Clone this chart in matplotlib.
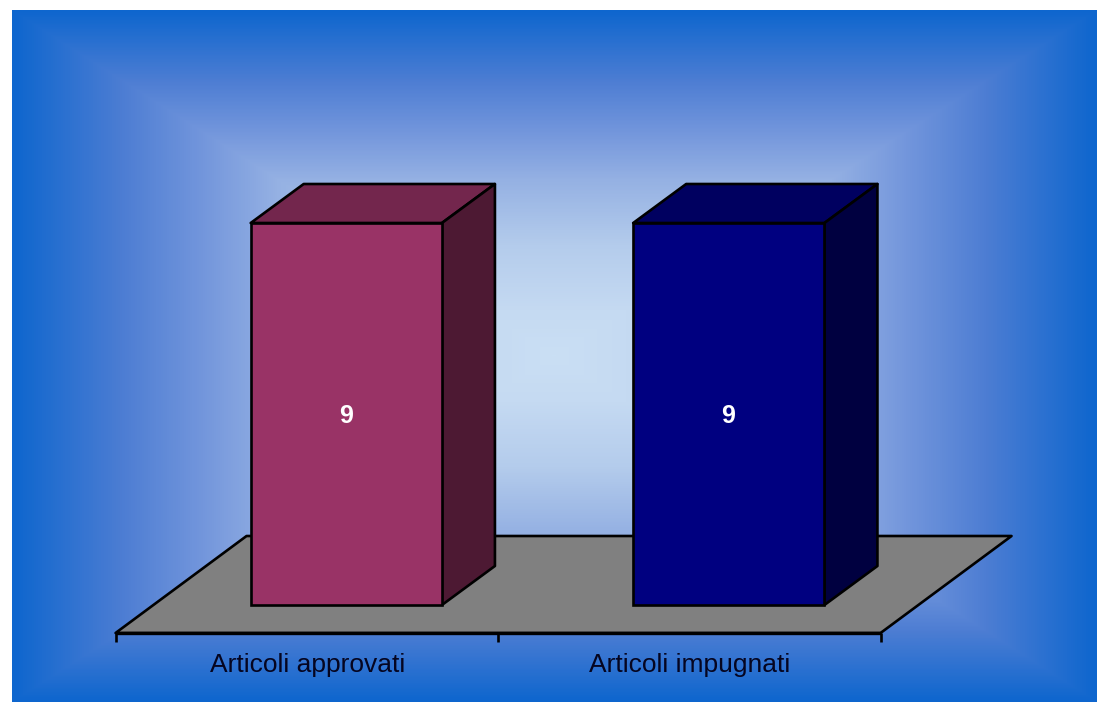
import numpy as np
import matplotlib
matplotlib.use('Agg')
from matplotlib import pyplot as plt
from matplotlib.patches import Polygon
from matplotlib.colors import LinearSegmentedColormap

# chart values
categories = ['Articoli approvati', 'Articoli impugnati']
values = [9, 9]

W, H = 1097, 702
plt.rcParams['font.family'] = ['Liberation Sans', 'DejaVu Sans']

fig = plt.figure(figsize=(W / 100, H / 100), dpi=100, facecolor='white')

# backdrop panel with a rectangular gradient
left, top = 12, 10
bg = fig.add_axes([left / W, 0, (W - left) / W, (H - top) / H])
bg.set_axis_off()
u = np.linspace(-1, 1, W - left)
v = np.linspace(-1, 1, H - top)
uu, vv = np.meshgrid(u, v)
dist = np.maximum(np.abs(uu), np.abs(vv))
grad = LinearSegmentedColormap.from_list('panel', [
    (0.0, '#cadff4'), (0.13, '#c5daf2'), (0.32, '#b4ccec'), (0.51, '#95b1e3'),
    (0.65, '#7396dc'), (0.80, '#4c7dd3'), (1.0, '#0e66ce')])
bg.imshow(dist, cmap=grad, vmin=0, vmax=1, aspect='auto', interpolation='bilinear')

# chart axes over the whole figure, category and value units
x_unit = 382.5
y_unit = 382 / 9
ax = fig.add_axes([0, 0, 1, 1])
ax.patch.set_alpha(0)
ax.set_axis_off()
ax.set_xlim(-306.8 / x_unit, (W - 306.8) / x_unit)
ax.set_ylim((H - 633) / -y_unit, 633 / y_unit)

# depth of the floor, and the offsets used by the boxes
floor_dx, floor_dy = 131 / x_unit, 97 / y_unit
box_dx, box_dy = 53 / x_unit, 39 / y_unit
shift_x, shift_y = 39.5 / x_unit, 28 / y_unit
bar_width = 0.5
lw = 1.9

floor = Polygon([(-0.5, 0), (1.5, 0), (1.5 + floor_dx, floor_dy), (-0.5 + floor_dx, floor_dy)],
                closed=True, facecolor='#808080', edgecolor='black', linewidth=lw, joinstyle='round')
ax.add_patch(floor)

# category axis line and ticks
ax.plot([-0.5, 1.5], [0, 0], color='black', linewidth=2.4, solid_capstyle='butt')
for t in [-0.5, 0.5, 1.5]:
    ax.plot([t, t], [0, -9 / y_unit], color='black', linewidth=lw, solid_capstyle='butt')

face_colors = ['#993366', '#000080']
top_colors = ['#73264d', '#000060']
side_colors = ['#4d1933', '#000040']

for i, val in enumerate(values):
    x0 = i + shift_x - bar_width / 2
    x1 = x0 + bar_width
    y0 = shift_y
    y1 = y0 + val
    ax.add_patch(Polygon([(x0, y1), (x1, y1), (x1 + box_dx, y1 + box_dy), (x0 + box_dx, y1 + box_dy)],
                         closed=True, facecolor=top_colors[i], edgecolor='black', linewidth=lw, joinstyle='round'))
    ax.add_patch(Polygon([(x1, y0), (x1 + box_dx, y0 + box_dy), (x1 + box_dx, y1 + box_dy), (x1, y1)],
                         closed=True, facecolor=side_colors[i], edgecolor='black', linewidth=lw, joinstyle='round'))
    ax.bar(i + shift_x, val, width=bar_width, bottom=y0, color=face_colors[i],
           edgecolor='black', linewidth=lw)
    ax.text(i + shift_x - 0.5 / x_unit, y0 + val / 2 - 2 / y_unit, str(val), color='white', fontsize=18,
            fontweight='bold', ha='center', va='center')
    ax.text(i + 0.5 / x_unit, -32 / y_unit, categories[i], color='#050520', fontsize=19,
            ha='center', va='center')

fig.savefig('out.png', dpi=100, facecolor='white')
